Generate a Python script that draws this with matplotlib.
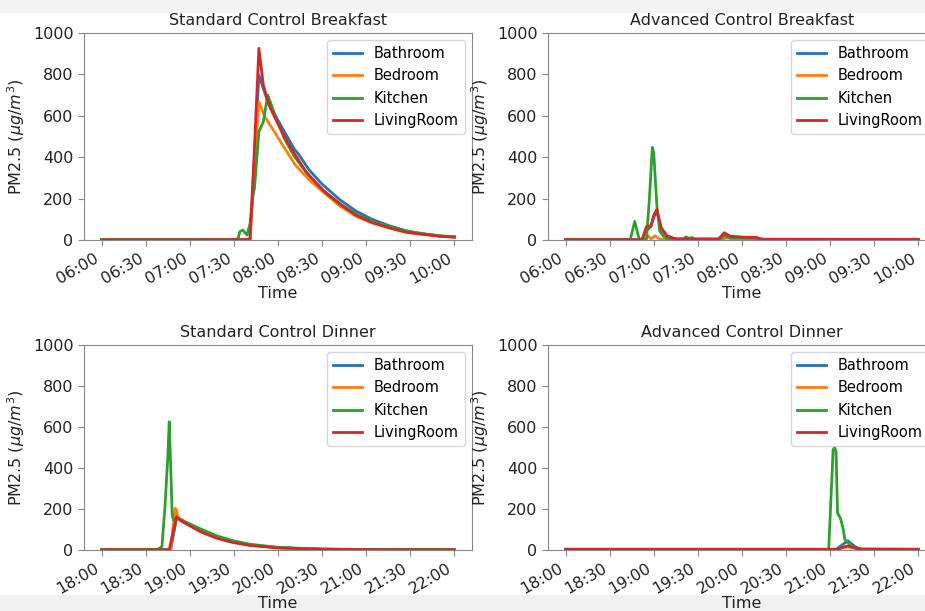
import matplotlib

matplotlib.use("Agg")
import matplotlib.dates as mdates
import matplotlib.pyplot as plt
import pandas as pd
from matplotlib.patches import Rectangle

ROOMS = ["Bathroom", "Bedroom", "Kitchen", "LivingRoom"]
COLORS = ["#1f77b4", "#ff7f0e", "#2ca02c", "#d62728"]
DAY = "2020-01-01 "

# --- standard control, breakfast ---
sb_bath_t = ["06:00", "07:00", "07:39", "07:41", "07:44", "07:47", "07:53", "08:03", "08:11", "08:14",
             "08:21", "08:30", "08:42", "08:53", "09:04", "09:16", "09:27", "09:40", "09:50", "10:00"]
sb_bath_v = [1, 1, 2, 5, 400, 797, 668, 540, 440, 415, 340, 270, 195, 140, 100, 68, 45, 28, 20, 15]
sb_bed_t = ["06:00", "07:00", "07:39", "07:41", "07:44", "07:47", "07:51", "07:56", "08:03", "08:12",
            "08:22", "08:31", "08:42", "08:53", "09:04", "09:27", "09:50", "10:00"]
sb_bed_v = [1, 1, 2, 5, 350, 668, 596, 540, 460, 360, 285, 230, 165, 115, 82, 37, 18, 14]
sb_kit_t = ["06:00", "07:00", "07:31", "07:33", "07:34", "07:36", "07:39", "07:41", "07:43", "07:44",
            "07:47", "07:50", "07:53", "07:58", "08:04", "08:11", "08:20", "08:32", "08:43", "08:55",
            "09:06", "09:27", "09:50", "10:00"]
sb_kit_v = [1, 1, 2, 10, 40, 48, 24, 80, 217, 250, 523, 571, 700, 604, 495, 405, 320, 230, 170, 118,
            85, 42, 20, 15]
sb_liv_t = ["06:00", "07:00", "07:39", "07:41", "07:44", "07:47", "07:50", "07:54", "08:00", "08:07",
            "08:19", "08:30", "08:42", "08:53", "09:04", "09:16", "09:27", "09:50", "10:00"]
sb_liv_v = [1, 1, 2, 5, 450, 926, 749, 650, 560, 465, 330, 245, 175, 120, 85, 58, 38, 18, 14]

# --- advanced control, breakfast ---
ab_bath_t = ["06:00", "06:52", "06:55", "06:58", "07:00", "07:02", "07:05", "07:09", "07:15", "07:45",
             "07:48", "07:52", "08:10", "08:13", "10:00"]
ab_bath_v = [1, 1, 45, 65, 110, 140, 55, 18, 4, 4, 25, 15, 10, 3, 2]
ab_bed_t = ["06:00", "06:52", "06:55", "06:58", "07:01", "07:04", "07:10", "07:47", "07:49", "07:55",
            "08:10", "10:00"]
ab_bed_v = [1, 1, 28, 5, 20, 5, 2, 2, 10, 5, 3, 1]
ab_kit_t = ["06:00", "06:44", "06:47", "06:50", "06:55", "06:57", "06:59", "07:00", "07:02", "07:04",
            "07:07", "07:10", "07:20", "07:22", "07:24", "07:26", "07:28", "07:45", "07:48", "07:52",
            "08:10", "08:15", "10:00"]
ab_kit_v = [2, 2, 90, 5, 5, 200, 448, 416, 173, 44, 15, 5, 5, 15, 8, 12, 3, 3, 20, 10, 8, 3, 3]
ab_liv_t = ["06:00", "06:52", "06:55", "06:58", "07:00", "07:02", "07:05", "07:09", "07:15", "07:44",
            "07:48", "07:52", "08:00", "08:10", "08:13", "10:00"]
ab_liv_v = [2, 2, 65, 68, 120, 148, 60, 20, 5, 5, 35, 18, 14, 12, 4, 3]

# --- standard control, dinner ---
sd_bath_t = ["18:00", "18:30", "18:47", "18:51", "18:53", "18:56", "19:07", "19:18", "19:29", "19:41",
             "20:00", "20:30", "21:00", "22:00"]
sd_bath_v = [1, 1, 2, 155, 152, 140, 98, 64, 42, 25, 11, 4, 2, 1]
sd_bed_t = ["18:00", "18:30", "18:47", "18:50", "18:51", "18:52", "18:55", "19:07", "19:18", "19:29",
            "19:41", "20:00", "20:30", "21:00", "22:00"]
sd_bed_v = [1, 1, 2, 203, 195, 150, 140, 95, 62, 40, 24, 11, 4, 2, 1]
sd_kit_t = ["18:00", "18:30", "18:38", "18:41", "18:43", "18:45", "18:46", "18:47", "18:48", "18:49",
            "18:51", "18:53", "19:07", "19:18", "19:29", "19:41", "20:00", "20:30", "21:00", "22:00"]
sd_kit_v = [1, 1, 2, 16, 200, 450, 626, 406, 171, 146, 158, 150, 104, 70, 46, 28, 13, 4, 2, 1]
sd_liv_t = ["18:00", "18:30", "18:46", "18:51", "18:55", "19:07", "19:18", "19:29", "19:41", "20:00",
            "20:30", "21:00", "22:00"]
sd_liv_v = [1, 1, 2, 163, 138, 90, 58, 37, 22, 10, 4, 2, 1]

# --- advanced control, dinner ---
ad_bath_t = ["18:00", "21:04", "21:08", "21:12", "21:17", "21:21", "22:00"]
ad_bath_v = [3, 3, 24, 45, 16, 4, 3]
ad_bed_t = ["18:00", "21:05", "21:09", "21:12", "21:17", "21:21", "22:00"]
ad_bed_v = [3, 3, 12, 15, 8, 3, 3]
ad_kit_t = ["18:00", "20:59", "21:02", "21:03", "21:04", "21:05", "21:07", "21:09", "21:10", "21:15",
            "21:20", "22:00"]
ad_kit_v = [3, 3, 490, 500, 480, 180, 155, 98, 50, 16, 4, 3]
ad_liv_t = ["18:00", "21:05", "21:09", "21:12", "21:17", "21:21", "22:00"]
ad_liv_v = [4, 4, 14, 20, 10, 4, 4]

PANELS = [
    ("Standard Control Breakfast",
     [(sb_bath_t, sb_bath_v), (sb_bed_t, sb_bed_v), (sb_kit_t, sb_kit_v), (sb_liv_t, sb_liv_v)]),
    ("Advanced Control Breakfast",
     [(ab_bath_t, ab_bath_v), (ab_bed_t, ab_bed_v), (ab_kit_t, ab_kit_v), (ab_liv_t, ab_liv_v)]),
    ("Standard Control Dinner",
     [(sd_bath_t, sd_bath_v), (sd_bed_t, sd_bed_v), (sd_kit_t, sd_kit_v), (sd_liv_t, sd_liv_v)]),
    ("Advanced Control Dinner",
     [(ad_bath_t, ad_bath_v), (ad_bed_t, ad_bed_v), (ad_kit_t, ad_kit_v), (ad_liv_t, ad_liv_v)]),
]

W, H = 925, 611
fig = plt.figure(figsize=(W / 100, H / 100), dpi=100)

# light scan bands at top and bottom of the page
fig.patches.append(Rectangle((0, 1 - 12 / H), 1, 12 / H, transform=fig.transFigure,
                             color="#f3f3f3", zorder=-10))
fig.patches.append(Rectangle((0, 0), 1, 16 / H, transform=fig.transFigure,
                             color="#f1f1f1", zorder=-10))

# axes boxes in pixels: (left, top, right, bottom) -- right column runs past the cropped edge
boxes = [(84, 33, 472, 240), (548, 33, 936, 240), (84, 345, 472, 550), (548, 345, 936, 550)]

for (title, series), (x0, y0, x1, y1) in zip(PANELS, boxes):
    ax = fig.add_axes([x0 / W, 1 - y1 / H, (x1 - x0) / W, (y1 - y0) / H])
    for room, color, (times, vals) in zip(ROOMS, COLORS, series):
        t = pd.to_datetime([DAY + s for s in times])
        ax.plot(t, vals, color=color, lw=2.0, label=room)
    ax.set_ylim(0, 1000)
    ax.set_yticks([0, 200, 400, 600, 800, 1000])
    ax.xaxis.set_major_locator(mdates.MinuteLocator(byminute=[0, 30]))
    ax.xaxis.set_major_formatter(mdates.DateFormatter("%H:%M"))
    ax.tick_params(labelsize=11.5, colors="#222222", length=4)
    ax.tick_params(color="#888888")
    for lbl in ax.get_xticklabels():
        lbl.set_rotation(30)
        lbl.set_ha("right")
    for sp in ax.spines.values():
        sp.set_color("#888888")
    ax.set_title(title, fontsize=11.5, color="#222222")
    ax.set_xlabel("Time", fontsize=11.5, color="#222222", labelpad=0)
    ax.set_ylabel(r"PM2.5 ($\mu g/m^3$)", fontsize=11.5, color="#222222")
    ax.legend(loc="upper right", fontsize=10.5, labelspacing=0.5)

fig.savefig("out.png", dpi=100)
